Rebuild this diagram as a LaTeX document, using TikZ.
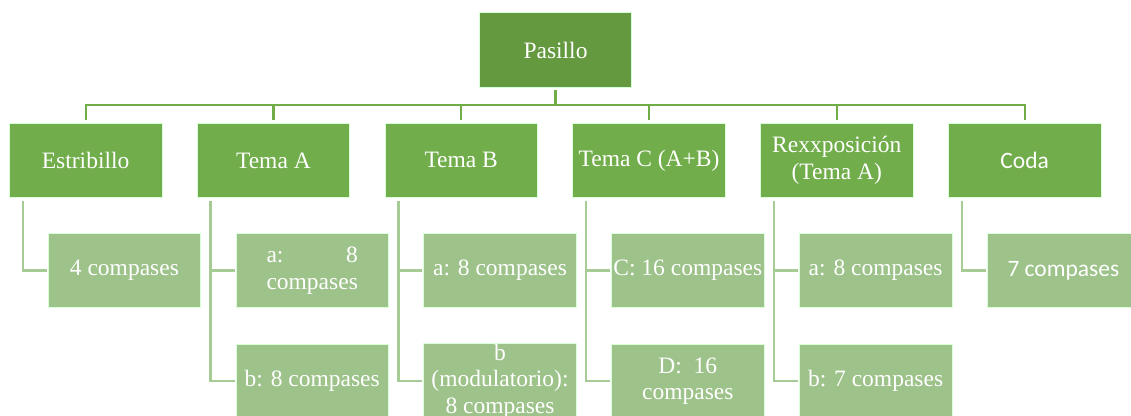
\documentclass[tikz,border=0pt]{standalone}
\usepackage{fontspec}
\setmainfont{Liberation Serif}
\newfontfamily\carlitofont{Carlito}
\definecolor{rootgreen}{HTML}{64993F}
\definecolor{mid}{HTML}{71AD4B}
\definecolor{leaf}{HTML}{9DC28A}
\definecolor{topline}{HTML}{70AD47}
\definecolor{leafline}{HTML}{A7CB94}
\newlength\cmpw
\begin{document}
\begin{tikzpicture}[x=1pt,y=-1pt,
  box/.style={rectangle, draw=white!85!green, line width=0.6pt, text=white,
    minimum width=152.5pt, inner sep=1pt, align=center,
    font=\fontsize{23.5}{26.7}\selectfont},
  rootbox/.style={box, fill=rootgreen, minimum height=75pt},
  partbox/.style={box, fill=mid, minimum height=74.7pt},
  leafbox/.style={box, fill=leaf, minimum height=74.4pt},
  topconn/.style={draw=topline, line width=2.2pt, shorten <=2pt, shorten >=2.5pt},
  leafconn/.style={draw=leafline, line width=2.4pt, shorten <=2.5pt, shorten >=1pt}]
\clip (0,0) rectangle (1131,415);
\fill[white] (0,0) rectangle (1131,415);

% root
\node[rootbox] (p) at (555.5,50.2) {Pasillo};
\coordinate (bar) at (0,105.3);

% sections
\node[partbox] (e)  at (85.6,160.4)  {Estribillo};
\node[partbox] (ta) at (273.4,160.4) {Tema A};
\node[partbox] (tb) at (461.2,160.4) {Tema B};
\node[partbox] (tc) at (649.0,160.4) {Tema C (A+B)};
\node[partbox] (rx) at (836.8,160.4) {Rexxposición\\(Tema A)};
\node[partbox,font=\carlitofont\fontsize{23.5}{26.7}\selectfont] (co) at (1024.6,160.4) {Coda};

% bar lengths
\node[leafbox] (e1)  at (124.4,270.5) {4 compases};
\node[leafbox] (ta1) at (312.2,270.5) {\settowidth\cmpw{compases}\makebox[\cmpw][s]{a:\hfill8}\\compases};
\node[leafbox] (ta2) at (312.2,381.2) {b: 8 compases};
\node[leafbox] (tb1) at (500.0,270.5) {a: 8 compases};
\node[leafbox] (tb2) at (500.0,381.2) {b\\(modulatorio):\\8 compases};
\node[leafbox] (tc1) at (687.8,270.5) {C: 16 compases};
\node[leafbox] (tc2) at (687.8,381.2) {D:\ \ 16\\compases};
\node[leafbox] (rx1) at (875.6,270.5) {a: 8 compases};
\node[leafbox] (rx2) at (875.6,381.2) {b: 7 compases};
\node[leafbox,font=\carlitofont\fontsize{23.5}{26.7}\selectfont] (co1) at (1063.4,270.5) {7 compases};

% root to sections
\foreach \s in {e,ta,tb,tc,rx,co}
  \draw[topconn] (p.south) -- (p.south |- bar) -| (\s.north);

% sections to bar lengths
\foreach \s/\c in {e/e1,ta/ta1,ta/ta2,tb/tb1,tb/tb2,tc/tc1,tc/tc2,rx/rx1,rx/rx2,co/co1}
  \draw[leafconn] ([xshift=13.7pt]\s.south west) |- (\c.west);
\end{tikzpicture}
\end{document}
